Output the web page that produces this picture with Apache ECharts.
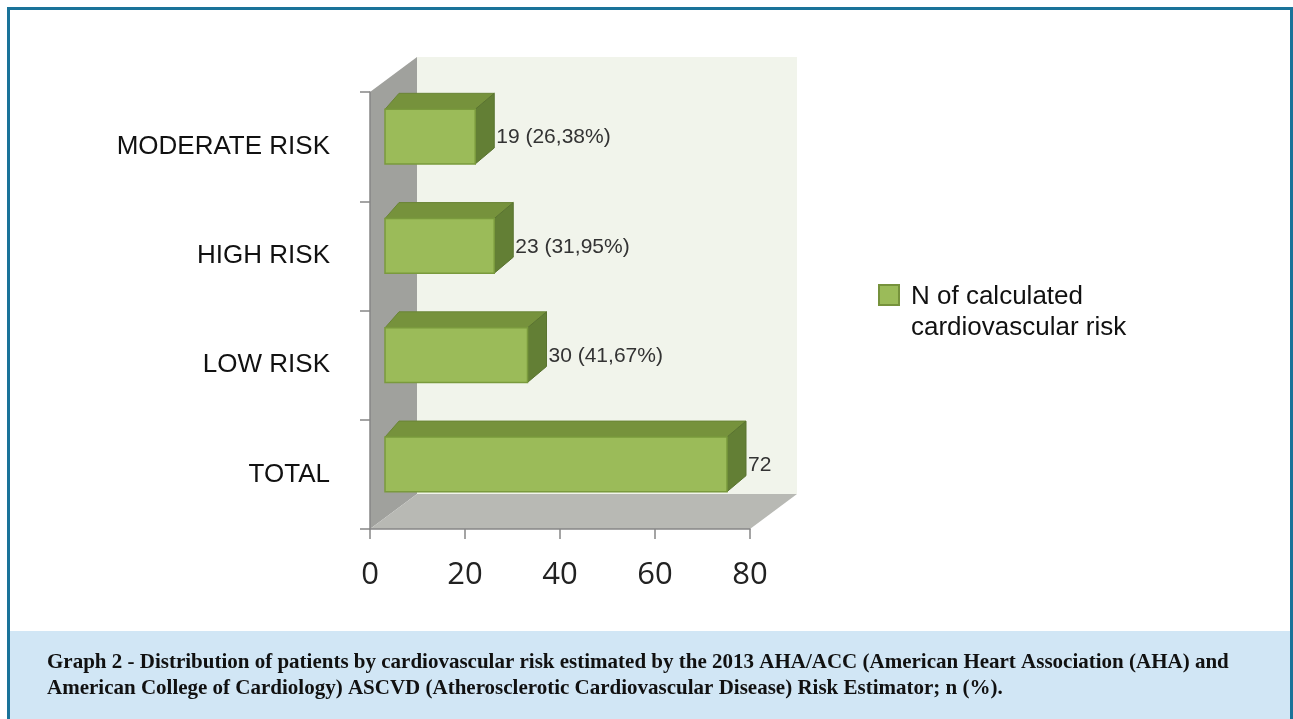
<!DOCTYPE html>
<html>
<head>
<meta charset="utf-8">
<script src="https://cdn.jsdelivr.net/npm/echarts@6/dist/echarts.min.js"></script>
<style>
  html, body { margin: 0; padding: 0; background: #fff; }
  #chart { width: 1293px; height: 719px; }
</style>
</head>
<body>
<div id="chart"></div>
<script>
// data, top to bottom
const categories = ['MODERATE RISK', 'HIGH RISK', 'LOW RISK', 'TOTAL']
const counts = [19, 23, 30, 72]
const valueLabels = ['19 (26,38%)', '23 (31,95%)', '30 (41,67%)', '72']
const xTicks = [0, 20, 40, 60, 80]
const seriesName = 'N of calculated\ncardiovascular risk'
const caption = [
  'Graph 2 - Distribution of patients by cardiovascular risk estimated by the 2013 AHA/ACC (American Heart Association (AHA) and',
  'American College of Cardiology) ASCVD (Atherosclerotic Cardiovascular Disease) Risk Estimator; n (%).'
]

const chart = echarts.init(document.getElementById('chart'))

// depth of the box walls and of each bar (fake 3d)
const WALL = { dx: 47, dy: -35 }
const BAR = { dxl: 14, dxr: 19, dy: -16, ox: 15, oy: -10 }

function renderWalls(params, api) {
  const cs = params.coordSys
  const l = cs.x, t = cs.y, r = cs.x + cs.width, b = cs.y + cs.height
  return {
    type: 'group',
    children: [
      { type: 'rect', shape: { x: l + WALL.dx, y: t + WALL.dy, width: cs.width, height: cs.height },
        style: { fill: '#f1f4eb' } },
      { type: 'polygon', shape: { points: [[l, t], [l + WALL.dx, t + WALL.dy], [l + WALL.dx, b + WALL.dy], [l, b]] },
        style: { fill: '#a0a19d' } },
      { type: 'polygon', shape: { points: [[l, b], [l + WALL.dx, b + WALL.dy], [r + WALL.dx, b + WALL.dy], [r, b]] },
        style: { fill: '#b8b9b4' } }
    ]
  }
}

function renderBar(params, api) {
  const idx = api.value(0)
  const v = api.value(1)
  const p0 = api.coord([0, idx])
  const p1 = api.coord([v, idx])
  const h = api.size([0, 1])[1] * 0.5
  const x0 = p0[0] + BAR.ox, x1 = p1[0] + BAR.ox
  const yc = p0[1] + BAR.oy
  const yt = yc - h / 2, yb = yc + h / 2
  return {
    type: 'group',
    children: [
      { type: 'polygon', shape: { points: [[x0, yt], [x1, yt], [x1 + BAR.dxr, yt + BAR.dy], [x0 + BAR.dxl, yt + BAR.dy]] },
        style: { fill: '#76923c', stroke: '#6a8536', lineWidth: 1 } },
      { type: 'polygon', shape: { points: [[x1, yt], [x1 + BAR.dxr, yt + BAR.dy], [x1 + BAR.dxr, yb + BAR.dy], [x1, yb]] },
        style: { fill: '#637f35', stroke: '#5a7430', lineWidth: 1 } },
      { type: 'rect', shape: { x: x0, y: yt, width: x1 - x0, height: h },
        style: { fill: '#9bbb59', stroke: '#7a9a3d', lineWidth: 1.5 } },
      { type: 'text', style: { x: x1 + BAR.dxr + 2, y: yc + 1, text: valueLabels[idx],
        fill: '#333', font: '21px "Liberation Sans", Arial, sans-serif', verticalAlign: 'middle', align: 'left' } }
    ]
  }
}

chart.setOption({
  animation: false,
  grid: { left: 370, top: 92, width: 380, height: 437 },
  xAxis: {
    type: 'value', min: 0, max: 80, interval: 20,
    axisLine: { show: true, lineStyle: { color: '#868686', width: 1.5 } },
    axisTick: { show: true, length: 10, lineStyle: { color: '#868686', width: 1.5 } },
    splitLine: { show: false },
    axisLabel: {
      color: '#222', fontSize: 31, fontFamily: '"Open Sans", sans-serif', margin: 31,
      formatter: (val) => xTicks.includes(val) ? String(val) : ''
    }
  },
  yAxis: {
    type: 'category', data: categories, inverse: true,
    axisLine: { show: true, lineStyle: { color: '#868686', width: 1.5 } },
    axisTick: { show: true, length: 10, lineStyle: { color: '#868686', width: 1.5 } },
    axisLabel: { color: '#111', fontSize: 26, fontFamily: 'Liberation Sans', margin: 40,
      lineHeight: 34, verticalAlign: 'middle', padding: [0, 0, 6, 0] }
  },
  series: [
    { type: 'custom', name: 'walls', renderItem: renderWalls, data: [[0]], z: 0, silent: true,
      encode: { x: -1, y: -1 } },
    { type: 'custom', name: seriesName, renderItem: renderBar, z: 5,
      data: counts.map((c, i) => [i, c]), encode: { y: 0, x: 1 } }
  ],
  graphic: [
    { type: 'rect', z: 0, shape: { x: 10, y: 631, width: 1280, height: 90 }, style: { fill: '#d1e6f5' } },
    { type: 'rect', z: 1, shape: { x: 8.5, y: 8.5, width: 1283, height: 730 },
      style: { fill: null, stroke: '#1a7399', lineWidth: 3 } },
    { type: 'rect', z: 10, shape: { x: 879, y: 285, width: 20, height: 20 },
      style: { fill: '#9bbb59', stroke: '#76923c', lineWidth: 2 } },
    { type: 'text', z: 10, style: { x: 911, y: 281, text: seriesName, fill: '#111',
      font: '26px "Liberation Sans", Arial, sans-serif', lineHeight: 31 } },
    { type: 'text', z: 10, style: { x: 47, y: 650, text: caption.join('\n'), fill: '#111',
      font: 'bold 21px "Liberation Serif", "Times New Roman", serif', lineHeight: 26 } }
  ]
})
</script>
</body>
</html>
